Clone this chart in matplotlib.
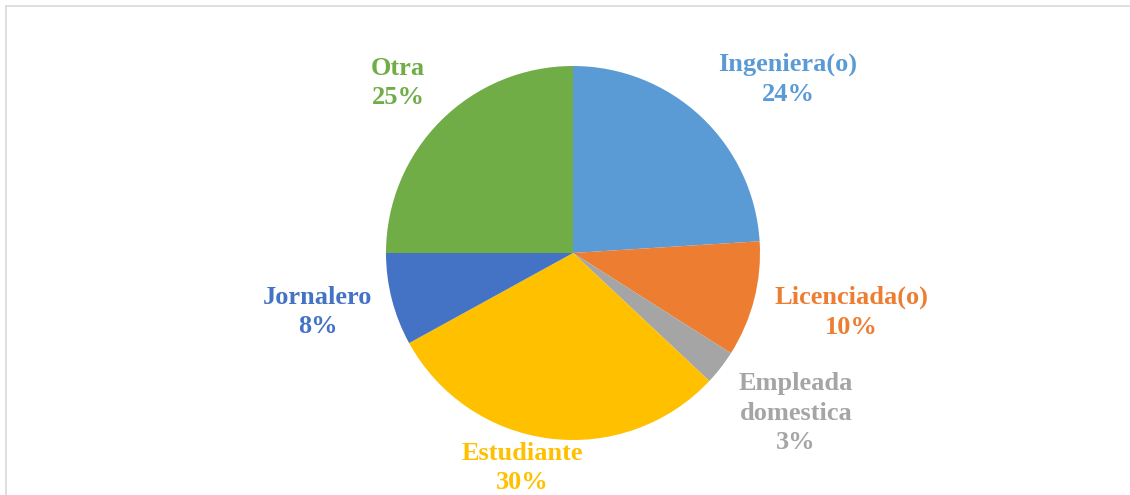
import matplotlib.pyplot as plt
from matplotlib.lines import Line2D

categories = ['Ingeniera(o)', 'Licenciada(o)', 'Empleada\ndomestica', 'Estudiante', 'Jornalero', 'Otra']
values = [24, 10, 3, 30, 8, 25]
colors = ['#5B9BD5', '#ED7D31', '#A5A5A5', '#FFC000', '#4472C4', '#70AD47']

# label block centres in pixels (x, y from top)
label_px = [(788, 79), (851, 312), (796, 413), (522, 468), (318, 312), (398, 83)]

W, H = 1130, 495
cx, cy, r = 573, 253, 187

fig = plt.figure(figsize=(W / 100, H / 100), dpi=100)
ax = fig.add_axes([(cx - r) / W, (H - cy - r) / H, 2 * r / W, 2 * r / H])
ax.pie(values, colors=colors, startangle=90, counterclock=False, radius=1,
       wedgeprops=dict(linewidth=0))
ax.set_xlim(-1, 1)
ax.set_ylim(-1, 1)
ax.set_aspect('auto')
ax.axis('off')

for cat, v, col, (px, py) in zip(categories, values, colors, label_px):
    txt = f'{cat}\n{v}%'
    fig.text(px / W, 1 - py / H, txt, ha='center', va='center', color=col,
             fontsize=19, fontweight='bold', family='Liberation Serif',
             linespacing=1.38, multialignment='center')

# chart frame (top and left edges visible)
fig.add_artist(Line2D([6 / W, 1], [1 - 6 / H, 1 - 6 / H], color='#D9D9D9', lw=1.2,
                      transform=fig.transFigure))
fig.add_artist(Line2D([6 / W, 6 / W], [0, 1 - 6 / H], color='#D9D9D9', lw=1.2,
                      transform=fig.transFigure))

fig.savefig('out.png', dpi=100)
